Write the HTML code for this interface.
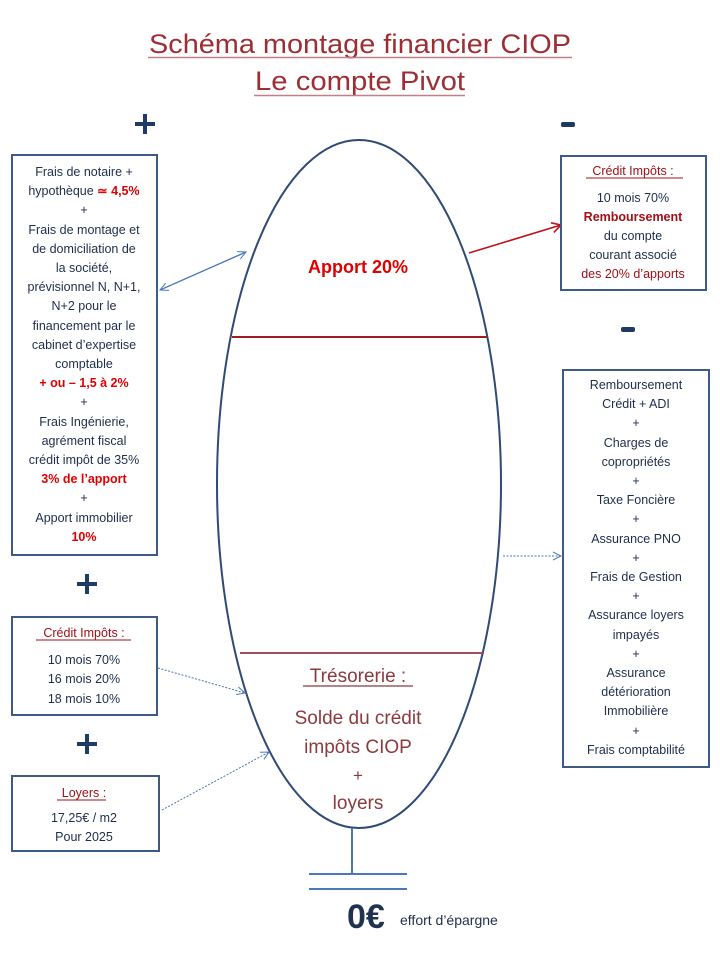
<!DOCTYPE html>
<html><head><meta charset="utf-8"><style>
html,body{margin:0;padding:0;background:#fff;width:720px;height:960px;overflow:hidden}
svg{display:block}
text{font-family:"Liberation Sans",sans-serif}
.t{font-size:12.5px;fill:#1f2d4a;text-anchor:middle}
.r{fill:#e00000;font-weight:bold}
.dr{fill:#a01018}
.bx{fill:#fff;stroke:#3d5a85;stroke-width:2}
</style></head><body>
<svg width="720" height="960" viewBox="0 0 720 960" xmlns="http://www.w3.org/2000/svg">
<defs>
<marker id="ab" markerWidth="10" markerHeight="10" refX="9" refY="5" orient="auto" markerUnits="userSpaceOnUse"><path d="M1,1 L9,5 L1,9" fill="none" stroke="#4a78b8" stroke-width="1"/></marker>
<marker id="ar" markerWidth="12" markerHeight="12" refX="10" refY="6" orient="auto" markerUnits="userSpaceOnUse"><path d="M1,1 L10,6 L1,11" fill="none" stroke="#c0101c" stroke-width="1.6"/></marker>
</defs>
<!-- title -->
<text x="360" y="53" text-anchor="middle" font-size="27" fill="#9e2e34" textLength="422" lengthAdjust="spacingAndGlyphs">Schéma montage financier CIOP</text>
<line x1="148" y1="57.5" x2="572" y2="57.5" stroke="#c08088" stroke-width="1.5"/>
<text x="360" y="90" text-anchor="middle" font-size="27" fill="#9e2e34" textLength="210" lengthAdjust="spacingAndGlyphs">Le compte Pivot</text>
<line x1="254" y1="95.5" x2="465" y2="95.5" stroke="#c08088" stroke-width="1.5"/>
<!-- plus/minus -->
<g fill="#1f3a64">
<rect x="135" y="122" width="20" height="4"/><rect x="143" y="114" width="4" height="20"/>
<rect x="77" y="582" width="20" height="4"/><rect x="85" y="574" width="4" height="20"/>
<rect x="77" y="742" width="20" height="4"/><rect x="85" y="734" width="4" height="20"/>
<rect x="561" y="122" width="14" height="5" rx="2"/>
<rect x="621" y="327" width="14" height="5" rx="2"/>
</g>
<!-- ellipse -->
<ellipse cx="359" cy="484" rx="142" ry="344" fill="none" stroke="#2f4a74" stroke-width="2"/>
<line x1="232" y1="337" x2="487" y2="337" stroke="#a01c24" stroke-width="2"/>
<line x1="240" y1="653" x2="484" y2="653" stroke="#a05058" stroke-width="2"/>
<text x="358" y="273" text-anchor="middle" font-size="18" font-weight="bold" fill="#e00000">Apport 20%</text>
<text x="358" y="682" text-anchor="middle" font-size="19" fill="#8b3a3e">Trésorerie :</text>
<line x1="303" y1="686" x2="413" y2="686" stroke="#8b3a3e" stroke-width="1.2"/>
<text x="358" y="724" text-anchor="middle" font-size="19" fill="#8b3a3e">Solde du crédit</text>
<text x="358" y="753" text-anchor="middle" font-size="19" fill="#8b3a3e">impôts CIOP</text>
<text x="358" y="781" text-anchor="middle" font-size="17" fill="#8b3a3e">+</text>
<text x="358" y="809" text-anchor="middle" font-size="19" fill="#8b3a3e">loyers</text>
<!-- stem -->
<line x1="352" y1="828" x2="352" y2="874" stroke="#4a78b8" stroke-width="2"/>
<line x1="309" y1="874" x2="407" y2="874" stroke="#4a78b8" stroke-width="2"/>
<line x1="309" y1="889" x2="407" y2="889" stroke="#4a78b8" stroke-width="2"/>
<text x="347" y="928" font-size="34" font-weight="bold" fill="#1f3350">0€</text>
<text x="400" y="925" font-size="14" fill="#1f2d4a">effort d’épargne</text>
<!-- connectors -->
<line x1="246" y1="252" x2="160" y2="290" stroke="#4a78b8" stroke-width="1.2" marker-end="url(#ab)"/>
<line x1="160" y1="290" x2="246" y2="252" stroke="#4a78b8" stroke-width="1.2" marker-end="url(#ab)"/>
<line x1="469" y1="253" x2="561" y2="225" stroke="#c0101c" stroke-width="1.6" marker-end="url(#ar)"/>
<line x1="158" y1="668" x2="245" y2="693" stroke="#4a78b8" stroke-width="1" stroke-dasharray="2,1.5" marker-end="url(#ab)"/>
<line x1="162" y1="810" x2="269" y2="752" stroke="#4a78b8" stroke-width="1" stroke-dasharray="2,1.5" marker-end="url(#ab)"/>
<line x1="503" y1="556" x2="561" y2="556" stroke="#4a78b8" stroke-width="1" stroke-dasharray="2,1.5" marker-end="url(#ab)"/>
<!-- left big box -->
<rect class="bx" x="12" y="155" width="145" height="400"/>
<g class="t">
<text x="84" y="176">Frais de notaire +</text>
<text x="84" y="195">hypothèque <tspan class="r">≃ 4,5%</tspan></text>
<text x="84" y="214">+</text>
<text x="84" y="234">Frais de montage et</text>
<text x="84" y="253">de domiciliation de</text>
<text x="84" y="272">la société,</text>
<text x="84" y="291">prévisionnel N, N+1,</text>
<text x="84" y="310">N+2 pour le</text>
<text x="84" y="330">financement par le</text>
<text x="84" y="349">cabinet d’expertise</text>
<text x="84" y="368">comptable</text>
<text x="84" y="387" class="r">+ ou – 1,5 à 2%</text>
<text x="84" y="406">+</text>
<text x="84" y="426">Frais Ingénierie,</text>
<text x="84" y="445">agrément fiscal</text>
<text x="84" y="464">crédit impôt de 35%</text>
<text x="84" y="483" class="r">3% de l’apport</text>
<text x="84" y="502">+</text>
<text x="84" y="522">Apport immobilier</text>
<text x="84" y="541" class="r">10%</text>
</g>
<!-- left credit box -->
<rect class="bx" x="12" y="617" width="145" height="98"/>
<g class="t">
<text x="84" y="637" class="dr">Crédit Impôts :</text>
<line x1="36" y1="640" x2="131" y2="640" stroke="#a01018" stroke-width="1"/>
<text x="84" y="664">10 mois 70%</text>
<text x="84" y="683">16 mois 20%</text>
<text x="84" y="703">18 mois 10%</text>
</g>
<!-- loyers -->
<rect class="bx" x="12" y="776" width="147" height="75"/>
<g class="t">
<text x="84" y="797" class="dr">Loyers :</text>
<line x1="57" y1="800" x2="106" y2="800" stroke="#a01018" stroke-width="1"/>
<text x="84" y="822">17,25€ / m2</text>
<text x="84" y="841">Pour 2025</text>
</g>
<!-- right top -->
<rect class="bx" x="561" y="156" width="145" height="134"/>
<g class="t">
<text x="633" y="175" class="dr">Crédit Impôts :</text>
<line x1="586" y1="178" x2="683" y2="178" stroke="#a01018" stroke-width="1"/>
<text x="633" y="202">10 mois 70%</text>
<text x="633" y="221" font-weight="bold" fill="#a01018">Remboursement</text>
<text x="633" y="240">du compte</text>
<text x="633" y="259">courant associé</text>
<text x="633" y="278" fill="#a01018">des 20% d’apports</text>
</g>
<!-- right big -->
<rect class="bx" x="563" y="370" width="146" height="397"/>
<g class="t">
<text x="636" y="389">Remboursement</text>
<text x="636" y="408">Crédit + ADI</text>
<text x="636" y="427">+</text>
<text x="636" y="447">Charges de</text>
<text x="636" y="466">copropriétés</text>
<text x="636" y="485">+</text>
<text x="636" y="504">Taxe Foncière</text>
<text x="636" y="523">+</text>
<text x="636" y="543">Assurance PNO</text>
<text x="636" y="562">+</text>
<text x="636" y="581">Frais de Gestion</text>
<text x="636" y="600">+</text>
<text x="636" y="619">Assurance loyers</text>
<text x="636" y="639">impayés</text>
<text x="636" y="658">+</text>
<text x="636" y="677">Assurance</text>
<text x="636" y="696">détérioration</text>
<text x="636" y="715">Immobilière</text>
<text x="636" y="735">+</text>
<text x="636" y="754">Frais comptabilité</text>
</g>
</svg>
</body></html>
